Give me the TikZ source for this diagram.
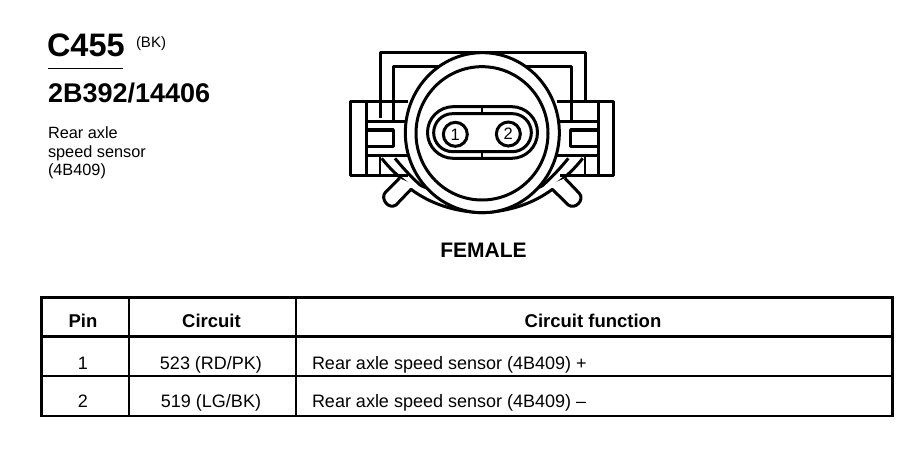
\documentclass[tikz,border=0pt]{standalone}
\usepackage{fontspec}
\setmainfont{Liberation Sans}
\tikzset{
  txt/.style={inner sep=0pt,outer sep=0pt,anchor=base west,align=left},
  ctr/.style={inner sep=0pt,outer sep=0pt,anchor=base},
  rule/.style={line width=2.6pt,black},
  conn/.style={line width=3pt,black,line join=round},
  thin conn/.style={line width=2pt,black,line join=round},
  fs18/.style={font=\fontsize{18}{20}\selectfont},
  fs18b/.style={font=\fontsize{18.5}{20}\selectfont\bfseries},
  pinc/.style={draw,line width=3pt,circle,minimum size=24pt,inner sep=0pt,font=\fontsize{16.5}{17}\selectfont},
}
\begin{document}
\begin{tikzpicture}[x=1pt,y=-1pt]
\useasboundingbox (0,0) rectangle (918,448);
\fill[white] (0,0) rectangle (918,448);
% title block
\node[txt,font=\fontsize{32.5}{33}\selectfont\bfseries] (title) at (47,56) {C455};
\node[txt,font=\fontsize{15}{16}\selectfont] (color) at (136,47) {(BK)};
\draw[line width=1.6pt] (48,68.5) -- (123,68.5);
\node[txt,font=\fontsize{27}{28}\selectfont\bfseries] (part) at (48,102) {2B392/14406};
\node[txt,font=\fontsize{16.3}{18.5}\selectfont] (desc) at (48,138) {Rear axle};
\node[txt,font=\fontsize{16.3}{18.5}\selectfont] (desc2) at (48,157) {speed sensor};
\node[txt,font=\fontsize{16.3}{18.5}\selectfont] (desc3) at (48,175.5) {(4B409)};
% connector
\begin{scope}[xshift=330pt,yshift=-30pt,x=0.33333pt,y=-0.33333pt]
 % frame behind
 \draw[conn] (150,265) -- (150,68) -- (765,68) -- (765,215);
 \draw[conn] (190,270) -- (190,110) -- (725,110) -- (725,270);
 % left tab
 \draw[conn] (235,215) -- (62,215) -- (62,435) -- (235,435);
 \draw[conn] (108,215) -- (108,435);
 \draw[conn] (108,275) -- (225,275);
 \draw[conn] (108,375) -- (240,375);
 \draw[conn,line width=3.4pt] (108,300) -- (190,300) -- (190,350) -- (108,350);
 % right tab
 \draw[conn] (680,215) -- (850,215) -- (850,435) -- (690,435);
 \draw[conn] (805,215) -- (805,435);
 \draw[conn] (690,275) -- (805,275);
 \draw[conn] (680,375) -- (805,375);
 \draw[conn,line width=3.4pt] (805,300) -- (722,300) -- (722,350) -- (805,350);
 % struts under the tabs
 \draw[thin conn] (150,375) -- (150,435);
 \draw[thin conn] (765,375) -- (765,435);
 \draw[conn] (155,385) .. controls (215,460) and (310,530) .. (455,547);
 \draw[conn] (195,385) .. controls (240,440) and (300,500) .. (360,525);
 \draw[conn] (758,385) .. controls (700,460) and (600,530) .. (455,547);
 \draw[conn] (715,385) .. controls (670,440) and (610,500) .. (550,525);
 % lugs
 \draw[conn,fill=white] (208,445) -- (166,487) .. controls (150,505) and (175,540) .. (198,525)
    -- (243,478) .. controls (300,520) and (370,545) .. (455,548);
 \draw[conn,fill=white] (705,445) -- (748,490) .. controls (765,510) and (735,540) .. (715,525)
    -- (667,478) .. controls (610,520) and (540,545) .. (455,548);
 % body
 \draw[conn,fill=white] (457,308) ellipse [x radius=231,y radius=240];
 \draw[conn,fill=white] (456,310) ellipse [x radius=198,y radius=200];
 % oval
 \draw[conn] (370,230) -- (545,230) arc[start angle=-90,end angle=90,radius=77.5] -- (370,385)
    arc[start angle=90,end angle=270,radius=77.5] -- cycle;
 \draw[conn] (368,251) -- (547,251) arc[start angle=-90,end angle=90,radius=57] -- (368,365)
    arc[start angle=90,end angle=270,radius=57] -- cycle;
 \draw[thin conn] (455,231) -- (455,251);
 \draw[thin conn] (455,365) -- (455,385);
 % pins
 \node[pinc] (pin1) at (376,313) {1};
 \node[pinc] (pin2) at (535,312) {2};
\end{scope}
% label
\node[ctr,font=\fontsize{21}{22}\selectfont\bfseries] (female) at (483.5,257) {FEMALE};
% table
\draw[rule] (41.5,297.5) rectangle (892.5,416);
\draw[rule] (41.5,336.5) -- (892.5,336.5);
\draw[rule] (41.5,376) -- (892.5,376);
\draw[rule] (129,297.5) -- (129,416);
\draw[rule] (296,297.5) -- (296,416);
\node[ctr,fs18b] (hpin) at (83,327) {Pin};
\node[ctr,fs18b] (hcir) at (211.5,327) {Circuit};
\node[ctr,fs18b] (hfun) at (593,327) {Circuit function};
\node[ctr,fs18] (p1) at (83,369) {1};
\node[ctr,fs18] (c1) at (211,369) {523 (RD/PK)};
\node[txt,fs18] (f1) at (312,369) {Rear axle speed sensor (4B409) +};
\node[ctr,fs18] (p2) at (83,407) {2};
\node[ctr,fs18] (c2) at (211,407) {519 (LG/BK)};
\node[txt,fs18] (f2) at (312,407) {Rear axle speed sensor (4B409) –};
\end{tikzpicture}
\end{document}
